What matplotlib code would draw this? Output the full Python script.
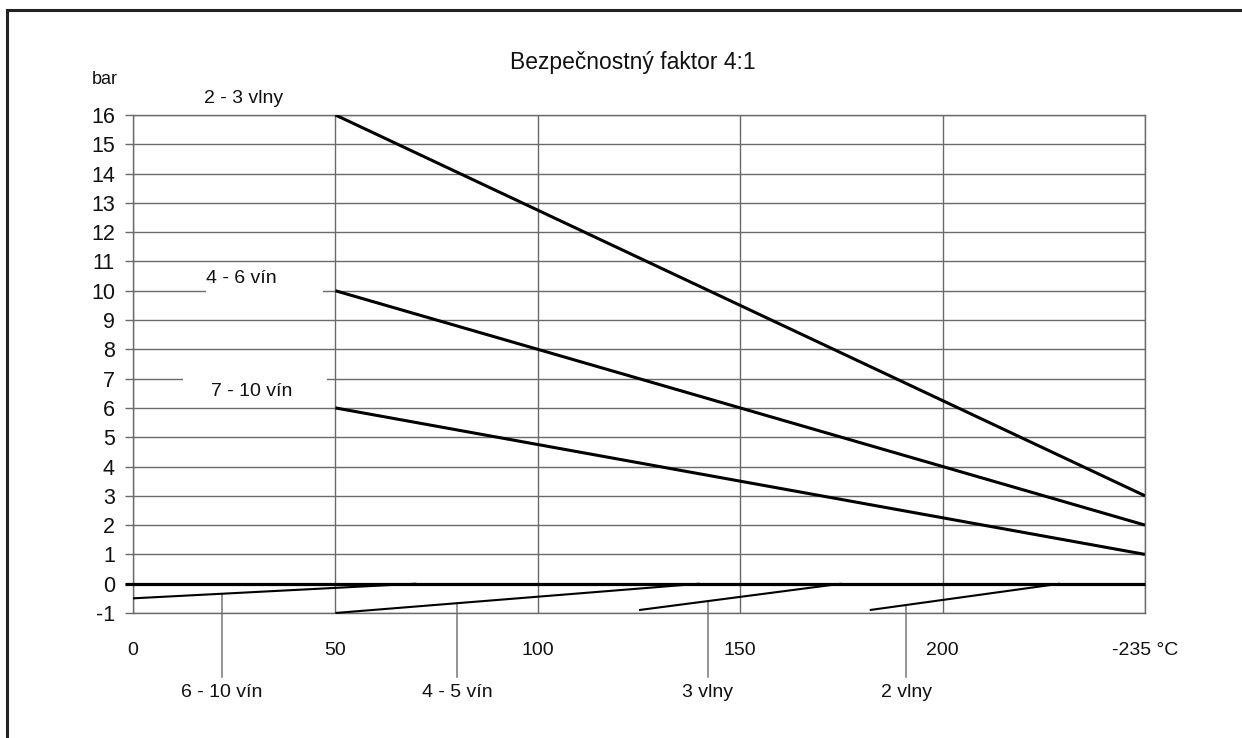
"""Bezpečnostný faktor 4:1 - pressure vs temperature chart."""

import matplotlib
matplotlib.use("Agg")
import matplotlib.pyplot as plt
from matplotlib.lines import Line2D
from matplotlib.patches import Rectangle

plt.rcParams["font.family"] = ["Liberation Sans", "DejaVu Sans"]

# main rating lines (temperature, bar)
TEMP_START = 50
TEMP_END = 250
MAIN_LABELS = ["2 - 3 vlny", "4 - 6 vín", "7 - 10 vín"]
MAIN_START = [16, 10, 6]
MAIN_END = [3, 2, 1]

# vacuum lines below zero
VAC_LABELS = ["6 - 10 vín", "4 - 5 vín", "3 vlny", "2 vlny"]
VAC_X0 = [0, 50, 125, 182]
VAC_Y0 = [-0.5, -1.0, -0.9, -0.9]
VAC_X1 = [70, 140, 175, 229]
VAC_Y1 = [0, 0, 0, 0]
VAC_LEADER_X = [22, 80, 142, 191]

X_TICKS = [0, 50, 100, 150, 200, 250]
X_TICKLABELS = ["0", "50", "100", "150", "200", "-235 °C"]
Y_TICKS = list(range(-1, 17))

GRID = "#6a6a6a"
TEXT = "#111111"

fig = plt.figure(figsize=(12.42, 7.38), dpi=100)
ax = fig.add_axes([0.1071, 0.1694, 0.8148, 0.6748])
ax.set_xlim(0, 250)
ax.set_ylim(-1, 16)

for spine in ax.spines.values():
    spine.set_color(GRID)
    spine.set_linewidth(1.0)

ax.set_xticks(X_TICKS, X_TICKLABELS)
ax.set_yticks(Y_TICKS, [str(v) for v in Y_TICKS])
ax.tick_params(axis="x", length=0, pad=21, labelsize=14, labelcolor=TEXT)
ax.tick_params(axis="y", length=6, width=1.0, color=GRID, pad=7,
               labelsize=15.5, labelcolor=TEXT)
ax.grid(True, color=GRID, linewidth=1.0, zorder=1)
ax.set_axisbelow(True)

# gaps in gridlines behind left labels
ax.add_patch(Rectangle((18, 9.85), 29, 0.3, facecolor="white", edgecolor="none", zorder=1.5))
ax.add_patch(Rectangle((12.3, 6.85), 35.7, 0.3, facecolor="white", edgecolor="none", zorder=1.5))

# zero line
ax.plot([-2, 250], [0, 0], color="black", linewidth=2.3, clip_on=False, zorder=3,
        solid_capstyle="butt")

for label, y0, y1 in zip(MAIN_LABELS, MAIN_START, MAIN_END):
    ax.plot([TEMP_START, TEMP_END], [y0, y1], color="black", linewidth=2.2,
            zorder=3, solid_capstyle="butt")

for x0, y0, x1, y1, lx, label in zip(VAC_X0, VAC_Y0, VAC_X1, VAC_Y1, VAC_LEADER_X, VAC_LABELS):
    ax.plot([x0, x1], [y0, y1], color="black", linewidth=1.5, zorder=3,
            clip_on=False, solid_capstyle="butt")
    ly = y0 + (y1 - y0) * (lx - x0) / (x1 - x0)
    ax.plot([lx, lx], [ly, -3.2], color="#777777", linewidth=1.1, clip_on=False, zorder=2)
    ax.text(lx, -3.72, label, ha="center", va="center", fontsize=14,
            color=TEXT, clip_on=False)

ax.text(27.4, 16.55, MAIN_LABELS[0], ha="center", va="center", fontsize=14, color=TEXT)
ax.text(26.7, 10.41, MAIN_LABELS[1], ha="center", va="center", fontsize=14, color=TEXT, zorder=4)
ax.text(29.4, 6.55, MAIN_LABELS[2], ha="center", va="center", fontsize=14, color=TEXT, zorder=4)

ax.text(-6.9, 17.2, "bar", ha="center", va="center", fontsize=13, color=TEXT)
fig.text(633 / 1242, 1 - 63 / 738, "Bezpečnostný faktor 4:1", ha="center", va="center",
         fontsize=16.5, color=TEXT)

# frame lines (top and left only)
fig.add_artist(Line2D([7 / 1242, 1], [1 - 10 / 738, 1 - 10 / 738], color="#222222",
                      linewidth=2.2, transform=fig.transFigure))
fig.add_artist(Line2D([7 / 1242, 7 / 1242], [0, 1 - 10 / 738], color="#222222",
                      linewidth=2.2, transform=fig.transFigure))

fig.savefig("out.png", dpi=100)
